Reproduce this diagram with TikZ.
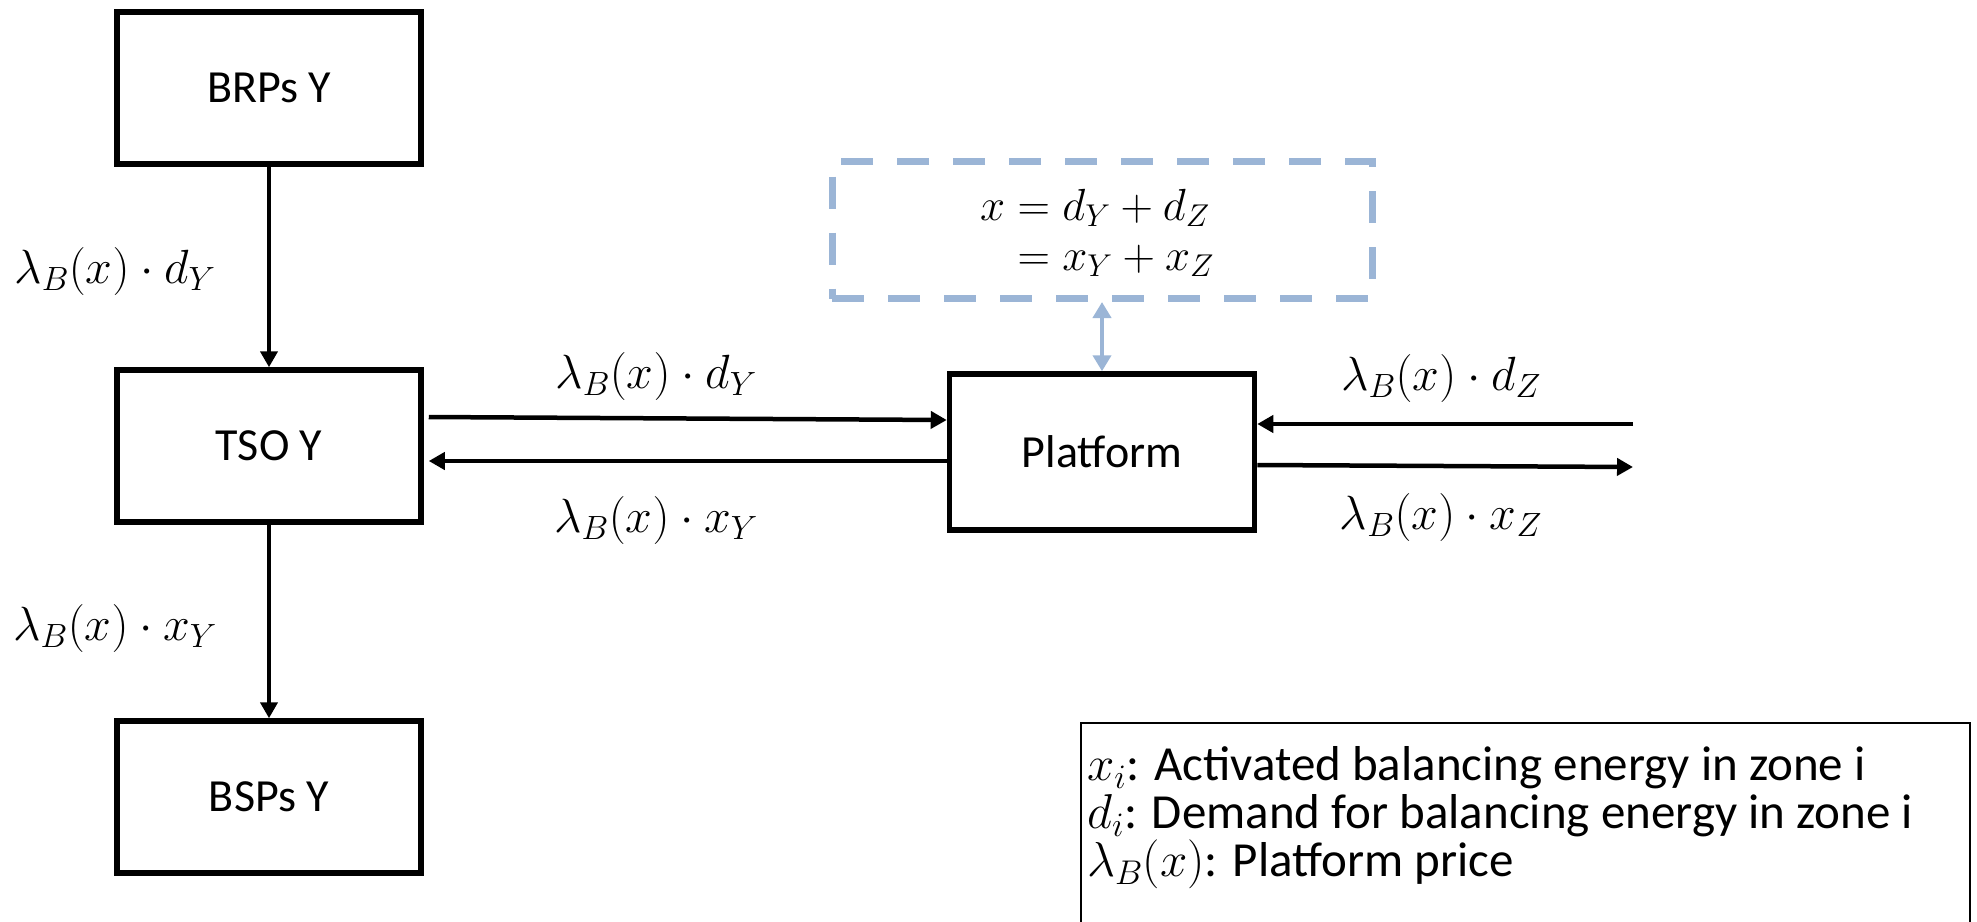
\RequirePackage{fix-cm}
\documentclass[tikz,border=0pt]{standalone}
\usepackage{amsmath}
\usepackage{fontspec}
\setmainfont{Carlito}
\usetikzlibrary{arrows.meta}
\definecolor{paleblue}{RGB}{155,181,214}
\tikzset{
  blk/.style={draw=black, line width=5.5pt, minimum width=304pt, minimum height=152pt, inner sep=0pt, font=\fontsize{46}{55}\selectfont},
  flow/.style={line width=4.5pt, -{Triangle[length=16pt,width=17pt]}},
  lbl/.style={inner sep=0pt, font=\fontsize{48}{55}\selectfont},
  eqbox/.style={draw=paleblue, line width=7pt, dash pattern=on 32pt off 24pt, minimum width=540pt, minimum height=137pt, inner sep=0pt},
  link/.style={draw=paleblue, line width=4pt, {Triangle[length=16pt,width=18pt]}-{Triangle[length=16pt,width=18pt]}},
  legend/.style={draw=black, line width=2.5pt}
}
\begin{document}
\begin{tikzpicture}[x=1pt,y=-1pt]
\useasboundingbox (0,0) rectangle (1977,921);
% blocks
\node[blk] (brp) at (269,88) {BRPs Y};
\node[blk] (tso) at (269,446) {TSO Y};
\node[blk] (bsp) at (269,797) {BSPs Y};
\node[blk, minimum width=305pt, minimum height=156pt] (plat) at (1102,452) {Platform};
\node[eqbox] (eq) at (1102,230) {};
\node[lbl, font=\fontsize{45}{55}\selectfont] (eqtxt) at (1097,234) {$\begin{aligned} x &= d_Y + d_Z\\[-8pt] &= x_Y + x_Z\end{aligned}$};
% vertical flows
\draw[flow] (brp.south) -- (tso.north);
\draw[flow] (tso.south) -- (bsp.north);
\node[lbl] (l1) at (115,271) {$\lambda_B(x)\cdot d_Y$};
\node[lbl] (l2) at (115,628) {$\lambda_B(x)\cdot x_Y$};
% horizontal flows
\coordinate (tsoA) at ([xshift=5pt]tso.east |- 0,417);
\coordinate (plA) at (plat.west |- 0,420);
\draw[flow] (tsoA) -- (plA);
\coordinate (plB) at (plat.west |- 0,461);
\coordinate (tsoB) at ([xshift=5pt]tso.east |- 0,461);
\draw[flow] (plB) -- (tsoB);
\node[lbl] (l3) at (656,376) {$\lambda_B(x)\cdot d_Y$};
\node[lbl] (l4) at (656,520) {$\lambda_B(x)\cdot x_Y$};
\coordinate (inR) at (1633,424);
\coordinate (outR) at (1633,467);
\draw[flow] (inR) -- (plat.east |- inR);
\draw[flow] (plat.east |- 0,465) -- (outR);
\node[lbl] (l5) at (1441,378) {$\lambda_B(x)\cdot d_Z$};
\node[lbl] (l6) at (1441,517) {$\lambda_B(x)\cdot x_Z$};
% link
\draw[link] (eq.south -| plat.north) -- (plat.north);
% legend
\draw[legend] (1081,950) -- (1081,723) -- (1970,723) -- (1970,950);
\node[lbl, anchor=west, align=left, font=\fontsize{49}{48}\selectfont] (leg) at (1087,818) {$x_i$: Activated balancing energy in zone i\\ $d_i$: Demand for balancing energy in zone i\\ $\lambda_B(x)$: Platform price};
\end{tikzpicture}
\end{document}
